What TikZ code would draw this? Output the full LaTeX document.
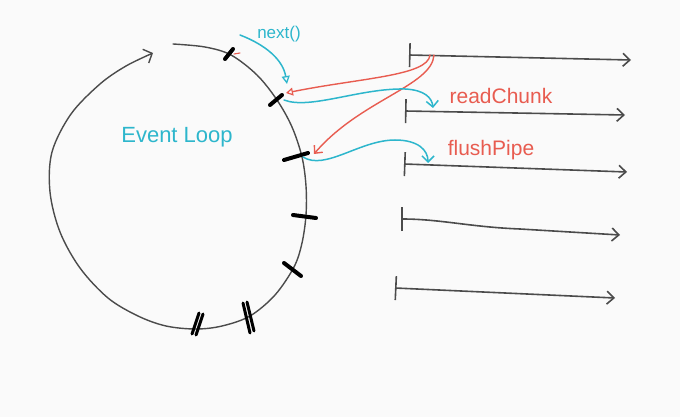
\documentclass[tikz,border=0pt]{standalone}
\usepackage{fontspec}
\setmainfont{Liberation Sans}
\usetikzlibrary{arrows.meta}
\definecolor{inkblue}{RGB}{45,182,204}
\definecolor{inkred}{RGB}{232,92,80}
\definecolor{inkgray}{RGB}{75,75,75}
\definecolor{paper}{RGB}{250,250,250}
\begin{document}
\begin{tikzpicture}[x=1pt,y=-1pt,
  loopline/.style={draw=inkgray,line width=1.4pt,line cap=round,line join=round},
  tickmark/.style={draw=black,line width=4pt,line cap=round},
  thread/.style={draw=inkgray,line width=1.6pt,line cap=round,
     {Bar[width=24pt,line width=1.6pt]}-{Straight Barb[length=7pt,width=13pt,line width=1.6pt]}},
  redcall/.style={draw=inkred,line width=1.4pt,line cap=round},
  bluecall/.style={draw=inkblue,line width=1.5pt,line cap=round},
  redlabel/.style={text=inkred,font=\fontsize{21}{22}\selectfont,inner sep=0pt},
  bluelabel/.style={text=inkblue,inner sep=0pt}]
\fill[paper] (0,0) rectangle (680,417);
\useasboundingbox (0,0) rectangle (680,417);

% event loop circle
\draw[loopline,-{Straight Barb[length=7pt,width=15pt,line width=1.4pt]}]
  plot[smooth,tension=0.55] coordinates {(173,44) (205,47) (231,55) (257,75) (277,100) (292,127)
  (302,157) (306,186) (306,215) (302,243) (294,267) (275,295) (250,316) (222,326) (196,329)
  (166,326) (138,316) (108,298) (80,268) (60,232) (50,192) (52,152) (71,114) (100,84) (126,66) (153,53)};

% ticks
\coordinate (t1) at (229,54);
\coordinate (t2) at (276,100);
\coordinate (t3) at (297,157);
\draw[tickmark] (225,59) -- (233,49);
\draw[tickmark] (270,105) -- (282,95);
\draw[tickmark] (284,160) -- (308,153);
\draw[tickmark] (293,215) -- (316,218);
\draw[tickmark] (284,263) -- (301,276);
\draw[tickmark,line width=3pt] (243,303) -- (250,333);
\draw[tickmark,line width=3pt] (247,302) -- (254,331);
\draw[tickmark,line width=3pt] (192,334) -- (199,313);
\draw[tickmark,line width=3pt] (196,335) -- (203,314);
\draw[redcall,line width=1.1pt] (234,54) -- (240,53);

% threads
\coordinate (a1) at (409,55);  \coordinate (b1) at (631,60);
\coordinate (a2) at (405,111); \coordinate (b2) at (625,115);
\coordinate (a3) at (404,164); \coordinate (b3) at (627,172);
\coordinate (a4) at (401,219); \coordinate (b4) at (620,235);
\coordinate (a5) at (395,288); \coordinate (b5) at (615,298);
\draw[thread] (a1) -- (b1);
\draw[thread] (a2) -- (b2);
\draw[thread] (a3) -- (b3);
\draw[thread] (a4) .. controls (440,219) and (470,227) .. (520,229) -- (b4);
\draw[thread] (a5) -- (b5);

% red callbacks
\coordinate (r1) at (430,55);
\coordinate (r2) at (434,55);
\draw[redcall,-{Triangle[open,length=7pt,width=8pt,line width=1.2pt]}]
  (r1) .. controls (428,76) and (360,78) .. (286,93);
\draw[redcall,-{Straight Barb[length=6pt,width=11pt,line width=1.4pt]}]
  (r2) .. controls (432,86) and (360,100) .. (314,154);

% blue callbacks
\coordinate (n0) at (240,35);
\draw[bluecall,-{Triangle[open,length=8pt,width=8pt,line width=1.3pt]}]
  (n0) .. controls (266,45) and (283,60) .. (287,84);
\draw[bluecall,-{Straight Barb[length=6pt,width=12pt,line width=1.5pt]}]
  (t2) ++(8,0) .. controls (310,110) and (360,88) .. (405,89)
  .. controls (425,90) and (432,98) .. (433,108);
\draw[bluecall,-{Straight Barb[length=6pt,width=12pt,line width=1.5pt]}]
  (t3) ++(6,0) .. controls (325,171) and (360,140) .. (395,140)
  .. controls (418,140) and (428,150) .. (428,163);

% labels
\node[bluelabel,font=\fontsize{22}{24}\selectfont] (ev) at (177,137) {Event Loop};
\node[bluelabel,font=\fontsize{17}{18}\selectfont] (nx) at (279,34) {next()};
\node[redlabel] (rc) at (501,96) {readChunk};
\node[redlabel] (fp) at (491,150) {flushPipe};
\end{tikzpicture}
\end{document}
